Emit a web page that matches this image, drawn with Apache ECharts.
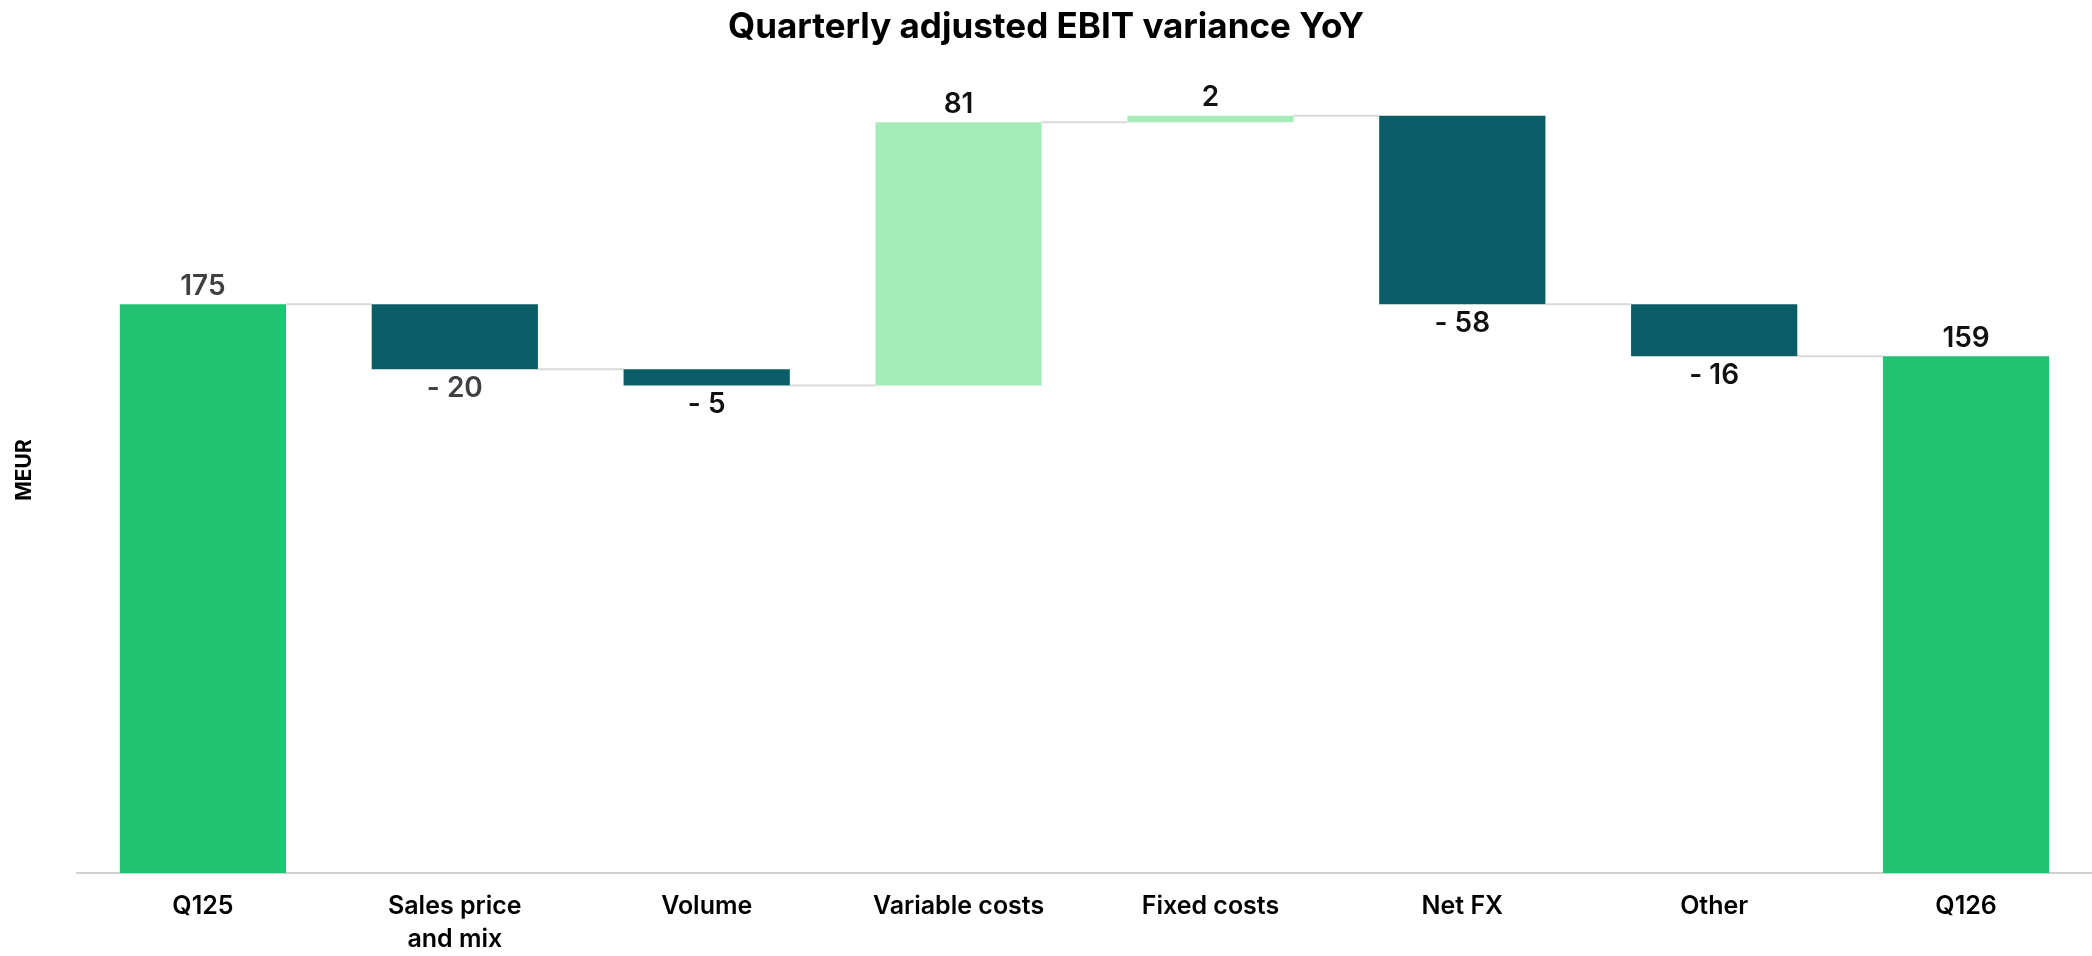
<!DOCTYPE html>
<html>
<head>
<meta charset="utf-8">
<title>Quarterly adjusted EBIT variance YoY</title>
<script src="https://cdn.jsdelivr.net/npm/echarts@6/dist/echarts.min.js"></script>
<style>
  html, body { margin: 0; padding: 0; background: #ffffff; }
  #chart { width: 2092px; height: 956px; }
</style>
</head>
<body>
<div id="chart"></div>
<script>
// Bridge categories and values (MEUR)
const categories = ['Q125', 'Sales price\nand mix', 'Volume', 'Variable costs', 'Fixed costs', 'Net FX', 'Other', 'Q126'];
const startValue = 175;
const changes = [-20, -5, 81, 2, -58, -16];
const endValue = 159;

const COLOR_TOTAL = '#23C373';
const COLOR_DOWN = '#0B5E67';
const COLOR_UP = '#A6ECB9';
const FONT = 'Inter, "Open Sans", sans-serif';

// Floating bars: an invisible base plus the visible segment stacked on it
const baseData = [];
const barData = [];
const connectorData = [];
let running = startValue;

baseData.push(0);
barData.push({ value: startValue, signed: startValue, total: true });
connectorData.push([0, running]);

changes.forEach((c, i) => {
  const lower = c >= 0 ? running : running + c;
  baseData.push(lower);
  barData.push({ value: Math.abs(c), signed: c, total: false });
  running += c;
  connectorData.push([i + 1, running]);
});

baseData.push(0);
barData.push({ value: endValue, signed: endValue, total: true });

const labelColors = ['#404040', '#404040', '#111111', '#111111', '#111111', '#111111', '#111111', '#111111'];

const visibleBars = barData.map((d, i) => {
  const down = !d.total && d.signed < 0;
  return {
    value: d.value,
    itemStyle: { color: d.total ? COLOR_TOTAL : (down ? COLOR_DOWN : COLOR_UP) },
    label: {
      position: down ? 'bottom' : 'top',
      distance: down ? 5 : 4,
      color: labelColors[i],
      formatter: down ? '- ' + Math.abs(d.signed) : String(d.signed)
    }
  };
});

const BAR_RATIO = 0.66;

const chart = echarts.init(document.getElementById('chart'), null, { renderer: 'canvas' });
chart.setOption({
  animation: false,
  backgroundColor: '#ffffff',
  title: {
    text: 'Quarterly adjusted EBIT variance YoY',
    left: 'center',
    top: 5,
    textStyle: { fontFamily: FONT, fontSize: 35, fontWeight: 700, color: '#000000' }
  },
  graphic: [
    {
      type: 'text',
      x: 25,
      y: 470,
      rotation: Math.PI / 2,
      style: {
        text: 'MEUR',
        fontFamily: FONT,
        fontSize: 21,
        fontWeight: 700,
        fill: '#000000',
        align: 'center',
        verticalAlign: 'middle'
      }
    }
  ],
  grid: { left: 77, right: 0, top: 93, bottom: 79 },
  xAxis: {
    type: 'category',
    data: categories,
    axisLine: { show: true, lineStyle: { color: '#cfcfcf', width: 2 } },
    axisTick: { show: false },
    axisLabel: {
      interval: 0,
      margin: 17,
      color: '#000000',
      fontFamily: FONT,
      fontSize: 25,
      fontWeight: 600,
      lineHeight: 33
    }
  },
  yAxis: {
    type: 'value',
    min: 0,
    max: 240,
    axisLine: { show: false },
    axisTick: { show: false },
    axisLabel: { show: false },
    splitLine: { show: false }
  },
  series: [
    {
      name: 'base',
      type: 'bar',
      stack: 'bridge',
      barWidth: (BAR_RATIO * 100) + '%',
      itemStyle: { color: 'transparent' },
      emphasis: { disabled: true },
      data: baseData
    },
    {
      name: 'EBIT',
      type: 'bar',
      stack: 'bridge',
      barWidth: (BAR_RATIO * 100) + '%',
      label: {
        show: true,
        fontFamily: FONT,
        fontSize: 28,
        fontWeight: 600
      },
      data: visibleBars
    },
    {
      name: 'connectors',
      type: 'custom',
      z: 1,
      silent: true,
      data: connectorData,
      renderItem: function (params, api) {
        const idx = api.value(0);
        const level = api.value(1);
        const p1 = api.coord([idx, level]);
        const p2 = api.coord([idx + 1, level]);
        const half = api.size([1, 0])[0] * BAR_RATIO / 2;
        return {
          type: 'line',
          shape: { x1: p1[0] + half, y1: p1[1], x2: p2[0] - half, y2: p2[1] },
          style: { stroke: '#d9d9d9', lineWidth: 2 }
        };
      }
    }
  ]
});
</script>
</body>
</html>
